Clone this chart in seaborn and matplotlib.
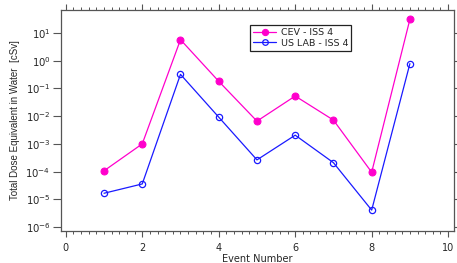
import matplotlib
matplotlib.use("Agg")
import matplotlib.pyplot as plt
import matplotlib.ticker as mticker
import seaborn as sns
import pandas as pd

# values
events = [1, 2, 3, 4, 5, 6, 7, 8, 9]
cev_iss4 = [1.07e-4, 1.0e-3, 5.7, 0.18, 6.6e-3, 0.053, 7.2e-3, 9.5e-5, 31.0]
uslab_iss4 = [1.66e-5, 3.6e-5, 0.32, 9.2e-3, 2.65e-4, 2.06e-3, 2.1e-4, 4.1e-6, 0.78]
y_decades = [-6, -5, -4, -3, -2, -1, 0, 1]

sns.set_style("ticks")
plt.rcParams["font.family"] = ["DejaVu Sans"]
plt.rcParams["mathtext.fontset"] = "dejavusans"

df = pd.DataFrame({"event": events, "cev": cev_iss4, "uslab": uslab_iss4})

fig = plt.figure(figsize=(4.57, 2.63), dpi=100)
ax = fig.add_axes([61 / 457, 1 - 231 / 263, (453.5 - 61) / 457, 221 / 263])

magenta = "#ff00cc"
blue = "#1a1aff"
sns.lineplot(data=df, x="event", y="cev", ax=ax, color=magenta, lw=0.9,
             marker="o", markersize=5, markerfacecolor=magenta,
             markeredgecolor=magenta, label="CEV - ISS 4")
sns.lineplot(data=df, x="event", y="uslab", ax=ax, color=blue, lw=0.9,
             marker="o", markersize=4.5, markerfacecolor="none",
             markeredgecolor=blue, markeredgewidth=0.9, label="US LAB - ISS 4")

ax.set_yscale("log")
ax.set_xlim(-0.125, 10.14)
ax.set_ylim(10 ** -6.14, 10 ** 1.825)

ax.set_yticks([10.0 ** d for d in y_decades])
ax.set_yticklabels([r"$10^{%d}$" % d for d in y_decades])
ax.yaxis.set_minor_locator(mticker.NullLocator())
ax.xaxis.set_major_locator(mticker.MultipleLocator(2))
ax.xaxis.set_minor_locator(mticker.MultipleLocator(0.2))

spine_col = "#555555"
for s in ax.spines.values():
    s.set_visible(True)
    s.set_color(spine_col)
    s.set_linewidth(0.9)

ax.tick_params(axis="x", which="major", direction="out", length=4.5, width=0.8,
               color=spine_col, labelsize=7, pad=4, top=True)
ax.tick_params(axis="x", which="minor", direction="out", length=2.2, width=0.7,
               color=spine_col, top=True)
ax.tick_params(axis="y", which="major", direction="out", length=5.5, width=0.8,
               color=spine_col, labelsize=7.3, pad=2, right=True)

ax.set_xlabel("Event Number", fontsize=7, labelpad=0.5)
ax.set_ylabel("Total Dose Equivalent in Water  [cSv]", fontsize=7, labelpad=4,
              family=["Liberation Sans Narrow", "Liberation Sans", "DejaVu Sans"])

leg = ax.legend(loc="upper left", bbox_to_anchor=(0.4815, 0.932), borderaxespad=0,
                fontsize=6.8, handlelength=2.4, labelspacing=0.15, fancybox=False,
                framealpha=1, edgecolor="#222222", borderpad=0.35, handletextpad=0.5,
                markerscale=0.9)
leg.get_frame().set_linewidth(0.9)

fig.savefig("out.png", dpi=100)
plt.close(fig)
